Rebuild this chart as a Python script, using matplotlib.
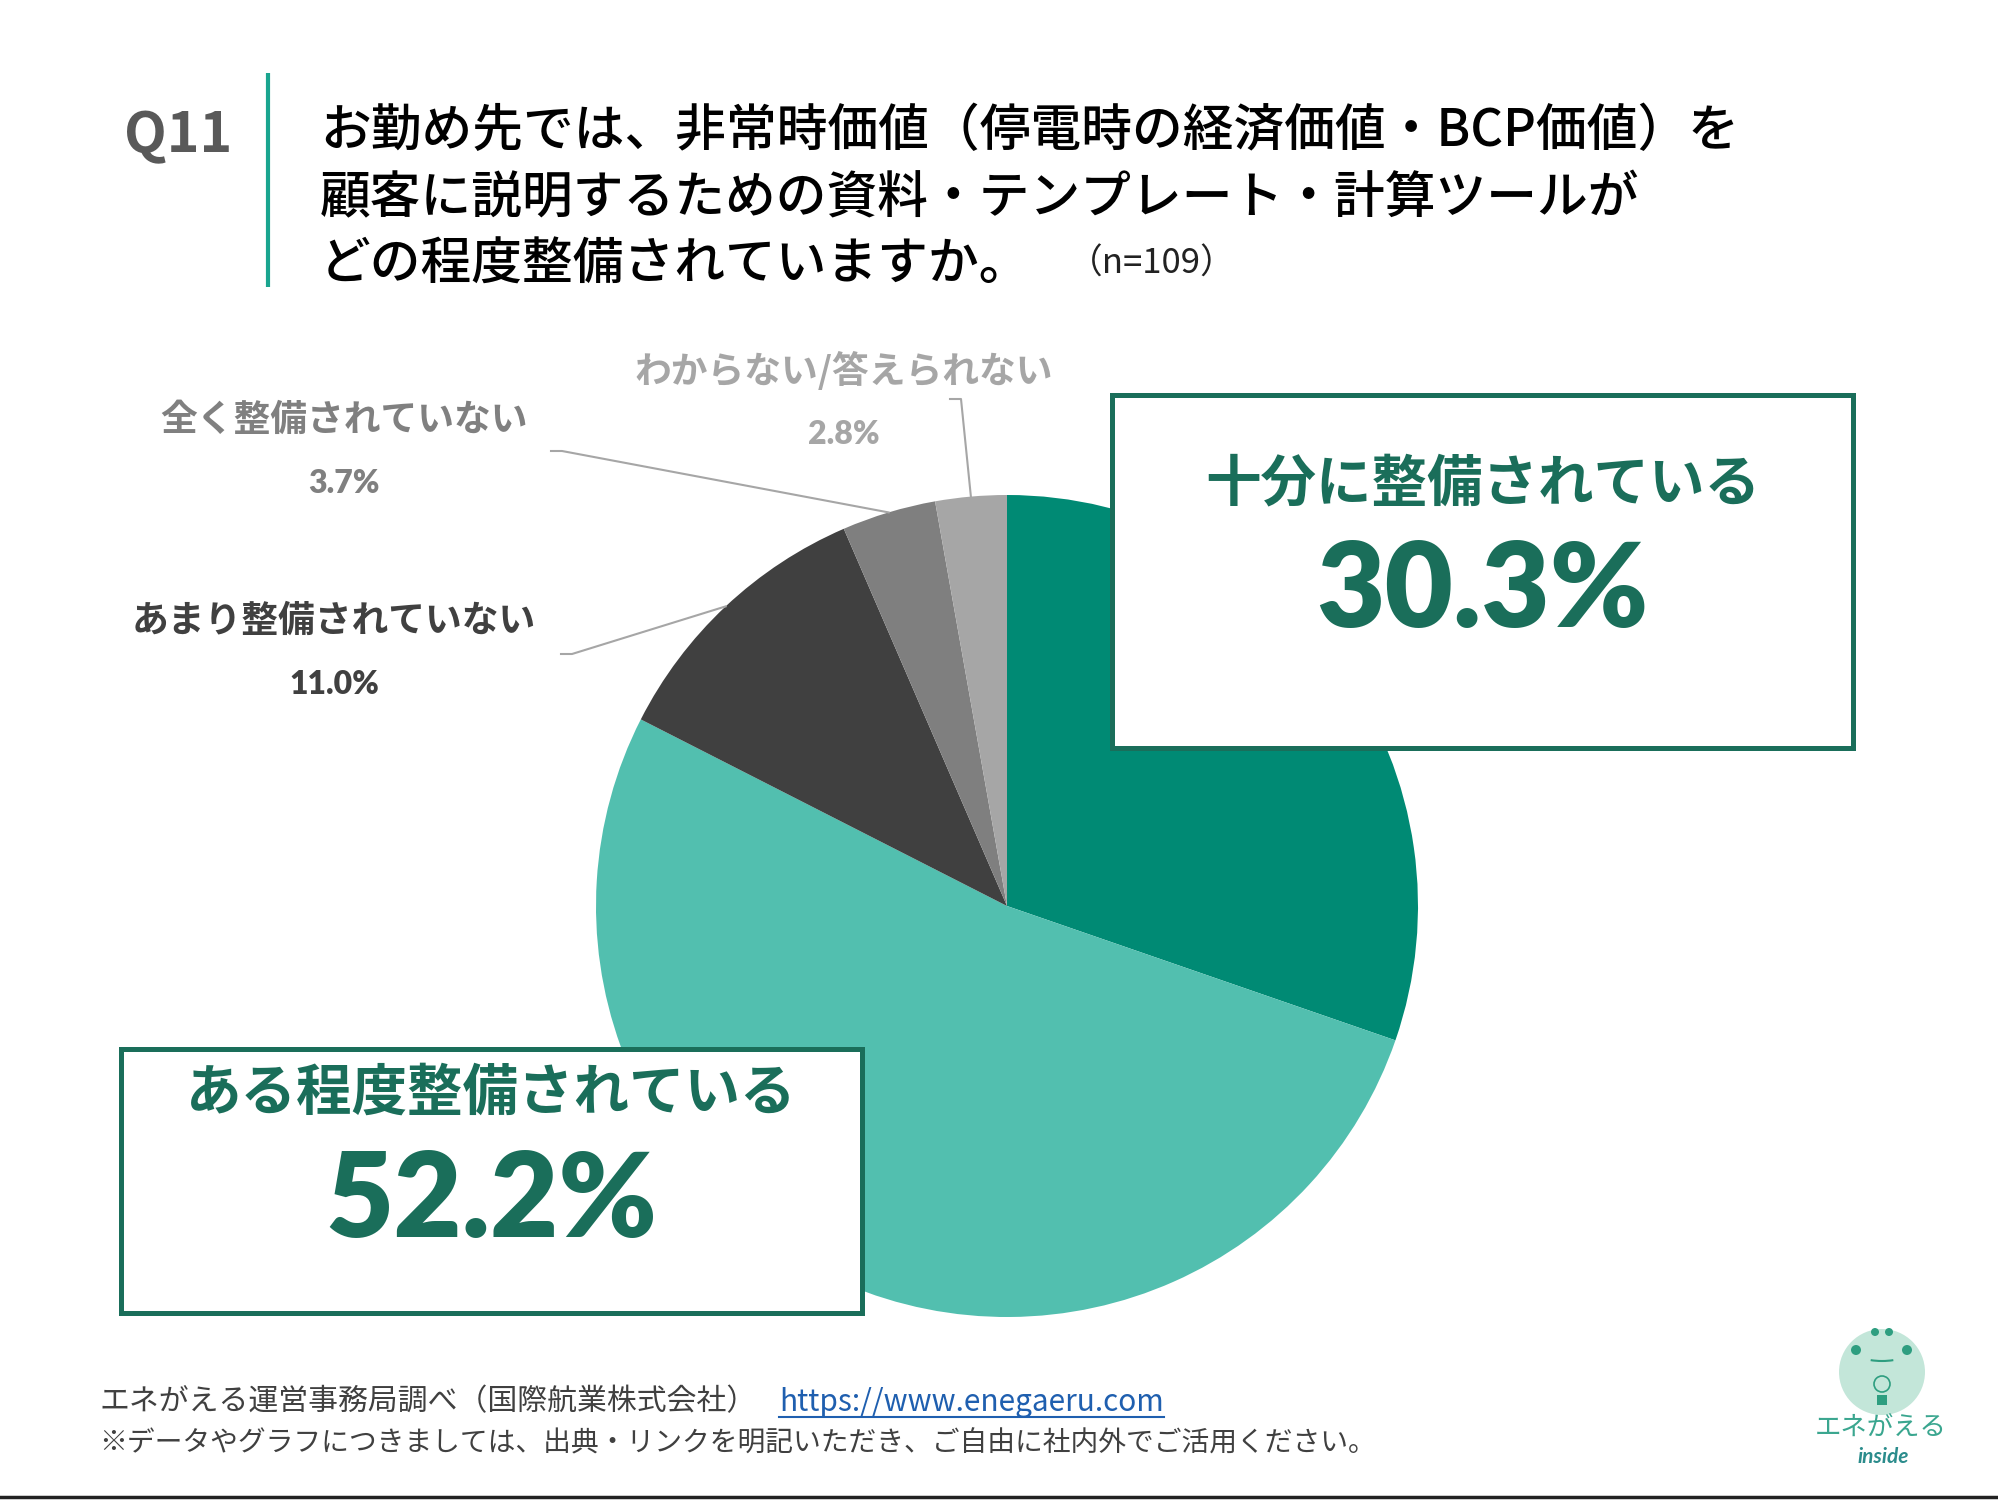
import numpy as np
import matplotlib
matplotlib.use('Agg')
import matplotlib.pyplot as plt
from matplotlib.patches import Rectangle, Circle, Arc

plt.rcParams['font.family'] = ['Noto Sans CJK JP', 'DejaVu Sans']

# data
categories = ['十分に整備されている', 'ある程度整備されている', 'あまり整備されていない',
              '全く整備されていない', 'わからない/答えられない']
values = [30.3, 52.2, 11.0, 3.7, 2.8]
colors = ['#008A74', '#52BFAF', '#404040', '#7F7F7F', '#A6A6A6']

title_lines = ['お勤め先では、非常時価値（停電時の経済価値・BCP価値）を',
               '顧客に説明するための資料・テンプレート・計算ツールが',
               'どの程度整備されていますか。']
n_text = '（n=109）'
source_text = 'エネがえる運営事務局調べ（国際航業株式会社）'
url_text = 'https://www.enegaeru.com'
note_text = '※データやグラフにつきましては、出典・リンクを明記いただき、ご自由に社内外でご活用ください。'

W, H = 1999, 1500
fig = plt.figure(figsize=(W / 100, H / 100), dpi=100)
ax = fig.add_axes([0, 0, 1, 1])


def Y(y):
    # image coords (top-down) -> axes coords
    return H - y


green = '#1A6E5A'
cx, cy, r = 1007, Y(906), 411

wedges, _ = ax.pie(values, colors=colors, startangle=90, counterclock=False,
                   center=(cx, cy), radius=r, wedgeprops=dict(linewidth=0))

ax.set_xlim(0, W)
ax.set_ylim(0, H)
ax.set_aspect('equal')
ax.axis('off')


def edge_point(i):
    t = np.deg2rad((wedges[i].theta1 + wedges[i].theta2) / 2)
    return cx + r * np.cos(t), cy + r * np.sin(t)


# title block
ax.text(124, Y(136), 'Q11', fontsize=40, fontweight='bold', color='#595959',
        va='center', ha='left')
ax.plot([268, 268], [Y(73), Y(287)], color='#1AA58F', lw=3, solid_capstyle='butt')
for i, line in enumerate(title_lines):
    ax.text(320, Y(131 + 67 * i), line, fontsize=36.5, fontweight='medium',
            color='black', va='center', ha='left')
ax.text(1068, Y(264), n_text, fontsize=25, color='#222222', va='center', ha='left')

# small-slice labels with leader lines
small = [
    # idx, label center, start of leader
    (2, (334, 621), (561, 654), '#404040'),
    (3, (344, 420), (551, 451), '#808080'),
    (4, (844, 371), (950, 399), '#A6A6A6'),
]
for idx, (lx, ly), (sx, sy), col in small:
    ax.text(lx, Y(ly), categories[idx], fontsize=26.5, fontweight='bold', color=col,
            ha='center', va='center')
    ax.text(lx, Y(ly + 64), f'{values[idx]:.1f}%', fontsize=23, fontweight='heavy',
            color=col, ha='center', va='center', family=['Lato', 'DejaVu Sans'])
    ex, ey = edge_point(idx)
    ax.plot([sx, sx + 11, ex], [Y(sy), Y(sy), ey], color='#A6A6A6', lw=1.5)

# highlighted boxes for the two main slices
boxes = [
    # idx, box, label offset, value offset
    (0, (1112, 395, 1853, 748), 89, 198),
    (1, (121, 1049, 862, 1313), 45, 153),
]
for idx, (x0, y0, x1, y1), off_lab, off_val in boxes:
    ax.add_patch(Rectangle((x0, Y(y1)), x1 - x0, y1 - y0, facecolor='white',
                           edgecolor=green, lw=3.6, zorder=5))
    xc = (x0 + x1) / 2
    ax.text(xc, Y(y0 + off_lab), categories[idx], fontsize=40, fontweight='bold',
            color=green, ha='center', va='center', zorder=6)
    ax.text(xc, Y(y0 + off_val), f'{values[idx]:.1f}%', fontsize=85, fontweight='heavy',
            color=green, ha='center', va='center', zorder=6,
            family=['Lato', 'DejaVu Sans'])

# footer
ax.text(99, Y(1402), source_text, fontsize=21.5, color='#404040', va='center', ha='left')
url = ax.text(779, Y(1402), url_text, fontsize=21.5, color='#1F5FAF', va='center', ha='left')
fig.canvas.draw()
bb = url.get_window_extent().transformed(ax.transData.inverted())
ax.plot([bb.x0, bb.x1], [bb.y0 + 1, bb.y0 + 1], color='#1F5FAF', lw=1.5)
ax.text(99, Y(1443), note_text, fontsize=20, color='#404040', va='center', ha='left')
ax.plot([0, W], [Y(1497), Y(1497)], color='#222222', lw=2.5)

# logo
ax.add_patch(Circle((1882, Y(1372)), 43, facecolor='#C3E6D9', edgecolor='none'))
ax.add_patch(Circle((1856, Y(1350)), 5, facecolor='#2E9E80'))
ax.add_patch(Circle((1907, Y(1350)), 5, facecolor='#2E9E80'))
ax.add_patch(Circle((1875, Y(1332)), 4, facecolor='#2E9E80'))
ax.add_patch(Circle((1889, Y(1332)), 4, facecolor='#2E9E80'))
ax.add_patch(Arc((1882, Y(1356)), 40, 10, theta1=200, theta2=340, color='#2E9E80', lw=1.5))
ax.add_patch(Circle((1882, Y(1384)), 8, facecolor='none', edgecolor='#2E9E80', lw=1.2))
ax.add_patch(Rectangle((1877, Y(1405)), 10, 10, facecolor='#2E9E80'))
ax.text(1881, Y(1428), 'エネがえる', fontsize=19, color='#3AA68F', ha='center', va='center')
ax.text(1883, Y(1457), 'inside', fontsize=15, color='#2B8C8C', ha='center', va='center',
        fontweight='bold', style='italic', family=['Lato', 'DejaVu Sans'])

fig.savefig('out.png', dpi=100, facecolor='white')
